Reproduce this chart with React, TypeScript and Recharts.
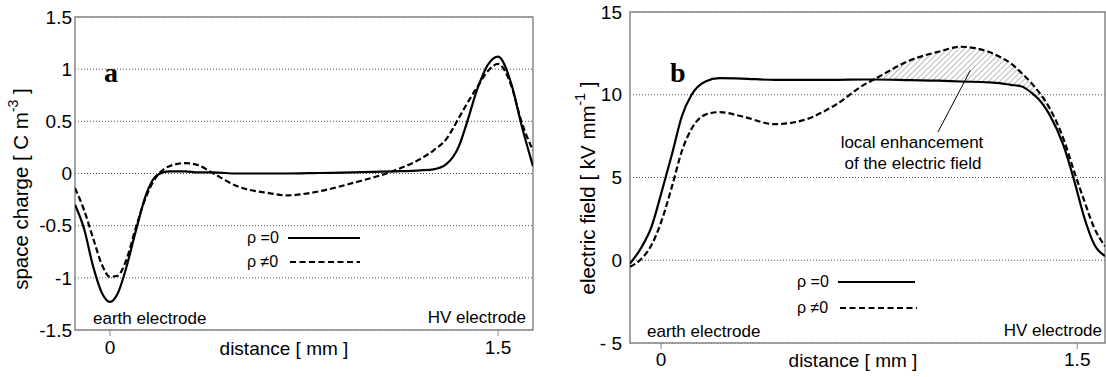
import {
    ComposedChart,
    Line,
    Area,
    XAxis,
    YAxis,
    CartesianGrid,
    ReferenceArea,
    ReferenceLine,
    Customized
} from 'recharts';

// panel a: space charge vs distance
const distA = [-0.135, -0.1, -0.065, -0.03, 0, 0.03, 0.06, 0.1, 0.14, 0.18, 0.23, 0.29, 0.34, 0.4, 0.49, 0.62, 0.68, 0.81, 0.94, 1.09, 1.2, 1.25, 1.3, 1.35, 1.38, 1.42, 1.46, 1.5, 1.55, 1.59, 1.635];
const chargeZero = [-0.3, -0.53, -0.89, -1.15, -1.23, -1.15, -0.93, -0.55, -0.2, -0.02, 0.02, 0.02, 0.01, 0.01, 0, 0, 0, 0.005, 0.01, 0.02, 0.03, 0.04, 0.09, 0.27, 0.49, 0.81, 1.04, 1.12, 0.87, 0.47, 0.07];
const chargeNonZero = [-0.14, -0.35, -0.62, -0.88, -0.99, -0.98, -0.85, -0.52, -0.22, -0.03, 0.07, 0.1, 0.08, 0, -0.12, -0.19, -0.21, -0.17, -0.09, 0.02, 0.14, 0.22, 0.33, 0.54, 0.67, 0.83, 0.98, 1.05, 0.85, 0.5, 0.22];
const chargeTicks = [-1.5, -1, -0.5, 0, 0.5, 1, 1.5];

// panel b: electric field vs distance
const distB = [-0.112, -0.07, -0.035, 0, 0.04, 0.075, 0.11, 0.16, 0.21, 0.29, 0.41, 0.51, 0.62, 0.736, 0.77, 0.9, 1.0, 1.08, 1.18, 1.22, 1.26, 1.3, 1.34, 1.36, 1.4, 1.45, 1.49, 1.525, 1.56, 1.6];
const fieldZero = [-0.2, 0.8, 2.0, 4.0, 6.45, 8.7, 10.0, 10.8, 11.0, 10.98, 10.9, 10.9, 10.9, 10.92, 10.92, 10.88, 10.85, 10.8, 10.75, 10.7, 10.6, 10.5, 10.05, 9.75, 8.8, 6.95, 4.75, 2.6, 1.0, 0.25];
const fieldNonZero = [-0.4, 0.1, 0.9, 2.3, 4.5, 6.6, 7.95, 8.8, 8.95, 8.7, 8.22, 8.45, 9.3, 10.65, 10.95, 12.1, 12.6, 12.9, 12.6, 12.3, 11.9, 11.3, 10.6, 10.2, 9.2, 7.35, 5.3, 3.6, 2.0, 0.85];
const fieldTicks = [-5, 0, 5, 10, 15];
const enhanceRange = [0.77, 1.4];

const distTicks = [0, 1.5];

const dataA = distA.map((d, i) => ({ d, zero: chargeZero[i], nonzero: chargeNonZero[i] }));
const dataB = distB.map((d, i) => ({
    d,
    zero: fieldZero[i],
    nonzero: fieldNonZero[i],
    band: d >= enhanceRange[0] && d <= enhanceRange[1] ? [fieldZero[i], fieldNonZero[i]] : null
}));

const sans = 'Liberation Sans, Arial, sans-serif';
const serif = 'Liberation Serif, Times New Roman, serif';
const tickStyle = { fontSize: 19, fill: '#000', fontFamily: sans };

function AnnotA() {
    return (
        <g fontFamily={sans} fill="#000">
            <text x={104} y={82} fontFamily={serif} fontWeight="bold" fontSize={28}>a</text>
            <text transform="rotate(-90, 20, 189)" x={20} y={189} textAnchor="middle" dominantBaseline="central" fontSize={20.5}>
                space charge [ C m<tspan dy={-7} fontSize={14}>-3</tspan><tspan dy={7}> ]</tspan>
            </text>
            <text x={284} y={355} textAnchor="middle" fontSize={19}>distance [ mm ]</text>
            <text x={93} y={324} fontSize={17}>earth electrode</text>
            <text x={526} y={323} textAnchor="end" fontSize={17}>HV electrode</text>
            <text x={247} y={243} fontSize={16}>ρ =0</text>
            <line x1={288} x2={360} y1={238} y2={238} stroke="#000" strokeWidth={2} />
            <text x={247} y={267} fontSize={16}>ρ ≠0</text>
            <line x1={290} x2={360} y1={262} y2={262} stroke="#000" strokeWidth={2} strokeDasharray="6 3.5" />
        </g>
    );
}

function AnnotB() {
    return (
        <g fontFamily={sans} fill="#000">
            <text x={110} y={82} fontFamily={serif} fontWeight="bold" fontSize={28}>b</text>
            <text transform="rotate(-90, 27, 188)" x={27} y={188} textAnchor="middle" dominantBaseline="central" fontSize={20.5}>
                electric field [ kV mm<tspan dy={-7} fontSize={14}>-1</tspan><tspan dy={7}> ]</tspan>
            </text>
            <text x={293} y={367} textAnchor="middle" fontSize={19}>distance [ mm ]</text>
            <text x={87} y={337} fontSize={17}>earth electrode</text>
            <text x={542} y={336} textAnchor="end" fontSize={17}>HV electrode</text>
            <text x={352} y={148} textAnchor="middle" fontSize={17}>local enhancement</text>
            <text x={353} y={169} textAnchor="middle" fontSize={17}>of the electric field</text>
            <text x={237} y={287} fontSize={16}>ρ =0</text>
            <line x1={278} x2={355} y1={282} y2={282} stroke="#000" strokeWidth={2} />
            <text x={237} y={313} fontSize={16}>ρ ≠0</text>
            <line x1={280} x2={357} y1={308} y2={308} stroke="#000" strokeWidth={2} strokeDasharray="6 3.5" />
        </g>
    );
}

function ChargePanel() {
    return (
        <ComposedChart width={560} height={377} data={dataA} margin={{ top: 17, right: 27, bottom: 17, left: 15 }}>
            <CartesianGrid horizontal vertical={false} stroke="#555" strokeDasharray="1 2" />
            <XAxis
                dataKey="d"
                type="number"
                domain={[distA[0], distA[distA.length - 1]]}
                ticks={distTicks}
                allowDataOverflow
                height={30}
                axisLine={false}
                tickSize={6}
                tickMargin={5}
                tickLine={{ stroke: '#888' }}
                tick={tickStyle}
            />
            <YAxis
                type="number"
                domain={[-1.5, 1.5]}
                ticks={chargeTicks}
                allowDataOverflow
                width={60}
                axisLine={false}
                tickLine={false}
                tickSize={0}
                tickMargin={3}
                tick={tickStyle}
            />
            <ReferenceArea x1={distA[0]} x2={distA[distA.length - 1]} y1={-1.5} y2={1.5} fill="none" stroke="#888" strokeWidth={1.5} ifOverflow="visible" />
            <Line dataKey="nonzero" type="monotone" stroke="#000" strokeWidth={2.2} strokeDasharray="6 3" dot={false} isAnimationActive={false} />
            <Line dataKey="zero" type="monotone" stroke="#000" strokeWidth={2.2} dot={false} isAnimationActive={false} />
            <Customized component={<AnnotA />} />
        </ComposedChart>
    );
}

function FieldPanel() {
    return (
        <ComposedChart width={546} height={377} data={dataB} margin={{ top: 12, right: 1, bottom: 4, left: 15 }}>
            <defs>
                <pattern id="hatch" width="4" height="4" patternUnits="userSpaceOnUse" patternTransform="rotate(45)">
                    <line x1="0" y1="0" x2="0" y2="4" stroke="#777" strokeWidth="1" />
                </pattern>
            </defs>
            <CartesianGrid horizontal vertical={false} stroke="#555" strokeDasharray="1 2" />
            <XAxis
                dataKey="d"
                type="number"
                domain={[distB[0], distB[distB.length - 1]]}
                ticks={distTicks}
                allowDataOverflow
                height={30}
                axisLine={false}
                tickSize={6}
                tickMargin={4}
                tickLine={{ stroke: '#888' }}
                tick={tickStyle}
            />
            <YAxis
                type="number"
                domain={[-5, 15]}
                ticks={fieldTicks}
                tickFormatter={(v: number) => (v < 0 ? '- ' + Math.abs(v) : String(v))}
                allowDataOverflow
                width={55}
                axisLine={false}
                tickLine={false}
                tickSize={0}
                tickMargin={8}
                tick={tickStyle}
            />
            <ReferenceArea x1={distB[0]} x2={distB[distB.length - 1]} y1={-5} y2={15} fill="none" stroke="#888" strokeWidth={1.5} ifOverflow="visible" />
            <Area dataKey="band" type="monotone" stroke="none" fill="url(#hatch)" fillOpacity={1} connectNulls={false} isAnimationActive={false} />
            <Line dataKey="nonzero" type="monotone" stroke="#000" strokeWidth={2.2} strokeDasharray="6 3" dot={false} isAnimationActive={false} />
            <Line dataKey="zero" type="monotone" stroke="#000" strokeWidth={2.2} dot={false} isAnimationActive={false} />
            <ReferenceLine segment={[{ x: 0.998, y: 7.75 }, { x: 1.115, y: 11.48 }]} stroke="#000" strokeWidth={1} />
            <Customized component={<AnnotB />} />
        </ComposedChart>
    );
}

export default function App() {
    return (
        <div style={{ position: 'absolute', left: 0, top: 0, width: 1106, height: 377, background: '#fff' }}>
            <div style={{ position: 'absolute', left: 0, top: 0 }}>
                <ChargePanel />
            </div>
            <div style={{ position: 'absolute', left: 560, top: 0 }}>
                <FieldPanel />
            </div>
        </div>
    );
}
